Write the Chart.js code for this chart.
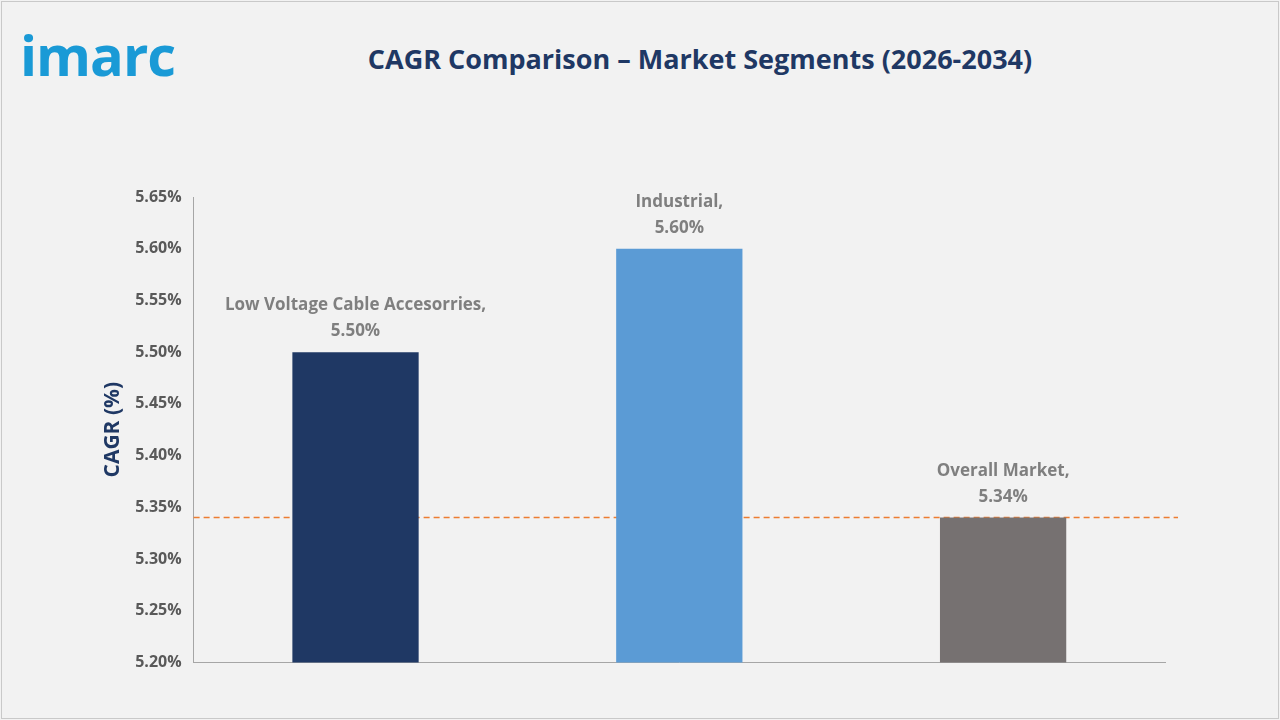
<!DOCTYPE html>
<html><head><meta charset="utf-8">
<script src="https://cdn.jsdelivr.net/npm/chart.js@4"></script>
<style>
html,body{margin:0;padding:0;width:1280px;height:720px;background:#f2f2f2;overflow:hidden}
#frame{position:absolute;left:1px;top:1px;width:1276px;height:716px;border:1px solid #c9c9c9;background:#f2f2f2}
#logo{position:absolute;left:20px;top:16px;font:bold 56px "Open Sans",sans-serif;color:#1a9ad6;letter-spacing:-1px}
#title{position:absolute;left:0;width:1400px;top:40px;text-align:center;font:bold 27px "Open Sans",sans-serif;color:#1f3864}
#wrap{position:absolute;left:96px;top:177px;width:1094px;height:501px}
</style></head><body>
<div id="frame"></div>
<div id="logo">imarc</div>
<div id="title">CAGR Comparison – Market Segments (2026-2034)</div>
<div id="wrap"><canvas id="c"></canvas></div>
<script>
const categories=["Low Voltage Cable Accesorries","Industrial","Overall Market"];
const values=[5.50,5.60,5.34];
const colors=["#1f3864","#5b9bd5","#767171"];
const overallLine=5.34;
const yMin=5.20,yMax=5.65,yStep=0.05;

const labelPlugin={id:'lbl',afterDatasetsDraw(ch){
  const ctx=ch.ctx,meta=ch.getDatasetMeta(0);
  ctx.save();ctx.fillStyle='#7f7f7f';ctx.font='bold 17px "Open Sans",sans-serif';ctx.textAlign='center';
  meta.data.forEach((b,i)=>{
    ctx.fillText(categories[i]+',',b.x,b.y-42);
    ctx.fillText(values[i].toFixed(2)+'%',b.x,b.y-16);
  });ctx.restore();}};
const linePlugin={id:'ln',beforeDatasetsDraw(ch){
  const ctx=ch.ctx,y=ch.scales.y.getPixelForValue(overallLine);
  ctx.save();ctx.strokeStyle='#ed7d31';ctx.lineWidth=1.5;ctx.setLineDash([6,4]);
  ctx.beginPath();ctx.moveTo(ch.chartArea.left,y);ctx.lineTo(ch.chartArea.right+13,y);ctx.stroke();ctx.restore();}};

new Chart(document.getElementById('c'),{
  type:'bar',
  data:{labels:categories,datasets:[{data:values,backgroundColor:colors,categoryPercentage:1,barPercentage:0.39}]},
  options:{responsive:true,maintainAspectRatio:false,animation:false,
    layout:{padding:{right:25,top:20,bottom:0}},
    plugins:{legend:{display:false},tooltip:{enabled:false}},
    scales:{
      x:{ticks:{display:false},grid:{display:false,drawTicks:false},border:{color:'#a6a6a6'}},
      y:{min:yMin,max:yMax,ticks:{stepSize:yStep,color:'#595959',font:{size:16,weight:'bold',family:'"Open Sans",sans-serif'},
          callback:v=>v.toFixed(2)+'%',padding:6},
        grid:{display:false,drawTicks:true,tickLength:6,color:'#a6a6a6'},border:{color:'#a6a6a6'},
        title:{display:true,text:'CAGR (%)',color:'#1f3864',font:{size:21,weight:'bold',family:'"Open Sans",sans-serif'}}}
    }},
  plugins:[labelPlugin,linePlugin]
});
</script></body></html>
